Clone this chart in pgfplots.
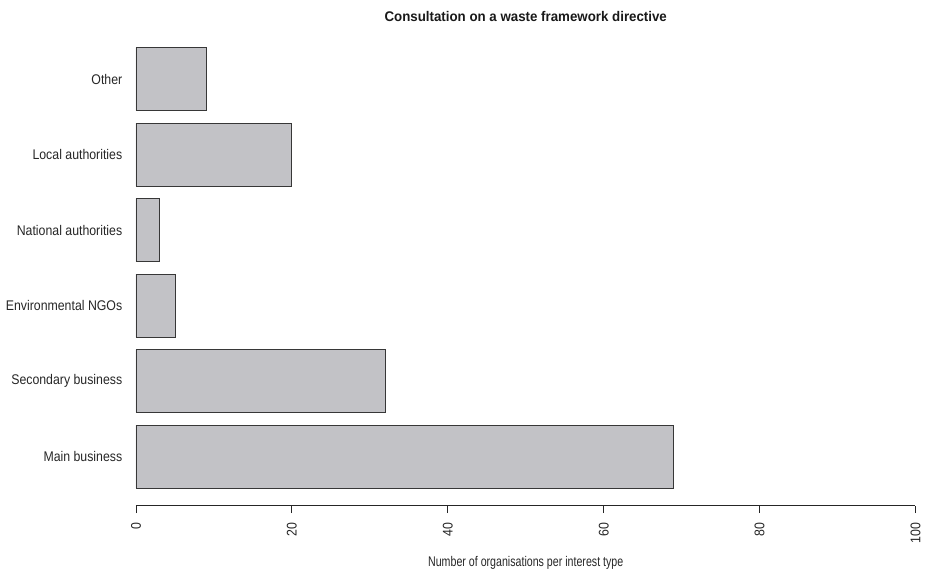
\documentclass[border=0pt]{standalone}
\usepackage{pgfplots}
\pgfplotsset{compat=1.18}
\usepackage{fontspec}
\setmainfont{Liberation Sans}
\newfontfamily\tickfont{Liberation Sans}[FakeStretch=0.88]
\newfontfamily\xlabfont{Liberation Sans}[FakeStretch=0.76]
\newfontfamily\titfont{Liberation Sans}[FakeStretch=0.95]
\definecolor{barfill}{RGB}{194,194,198}
\definecolor{baredge}{RGB}{55,55,55}
\begin{document}
\begin{tikzpicture}
\begin{axis}[
  scale only axis,
  width=584.6pt, height=356.7pt,
  xmin=0, xmax=100,
  ymin=-0.08, ymax=7.48,
  axis x line=bottom,
  axis y line=left,
  y axis line style={draw=none},
  x axis line style={-, line width=0.6pt, color=black!85},
  xtick={0,20,40,60,80,100},
  tick align=outside,
  major tick length=5.6pt,
  xtick style={line width=0.6pt, color=black!85},
  ytick style={draw=none},
  ytick={0.7,1.9,3.1,4.3,5.5,6.7},
  yticklabels={Main business,Secondary business,Environmental NGOs,National authorities,Local authorities,Other},
  yticklabel style={anchor=east, inner sep=0pt, xshift=-4.5pt, font=\tickfont\fontsize{10.5pt}{12pt}\selectfont, text=black!85},
  xticklabel style={yshift=-7pt, rotate=90, anchor=east, inner sep=0pt, font=\tickfont\fontsize{10.5pt}{12pt}\selectfont, text=black!85},
  /pgf/number format/assume math mode=true,
  xlabel={Number of organisations per interest type},
  xlabel style={at={(axis description cs:0.5,0)}, anchor=base, yshift=-46pt, inner sep=0pt, font=\xlabfont\fontsize{10.5pt}{12pt}\selectfont, text=black!85},
  title={\textbf{Consultation on a waste framework directive}},
  title style={at={(axis description cs:0.5,1)}, anchor=base, yshift=0pt, inner sep=0pt, font=\titfont\fontsize{10.5pt}{12pt}\selectfont, text=black!90},
  clip=false,
]
\addplot[xbar, bar width=1, fill=barfill, draw=baredge, line width=0.7pt] coordinates {
  (69,0.7) (32,1.9) (5,3.1) (3,4.3) (20,5.5) (9,6.7)
};
\end{axis}
\pgfresetboundingbox
\path ([xshift=-102pt,yshift=-50.55pt]current axis.south west) rectangle ([xshift=12.4pt,yshift=22.5pt]current axis.north east);
\end{tikzpicture}
\end{document}
